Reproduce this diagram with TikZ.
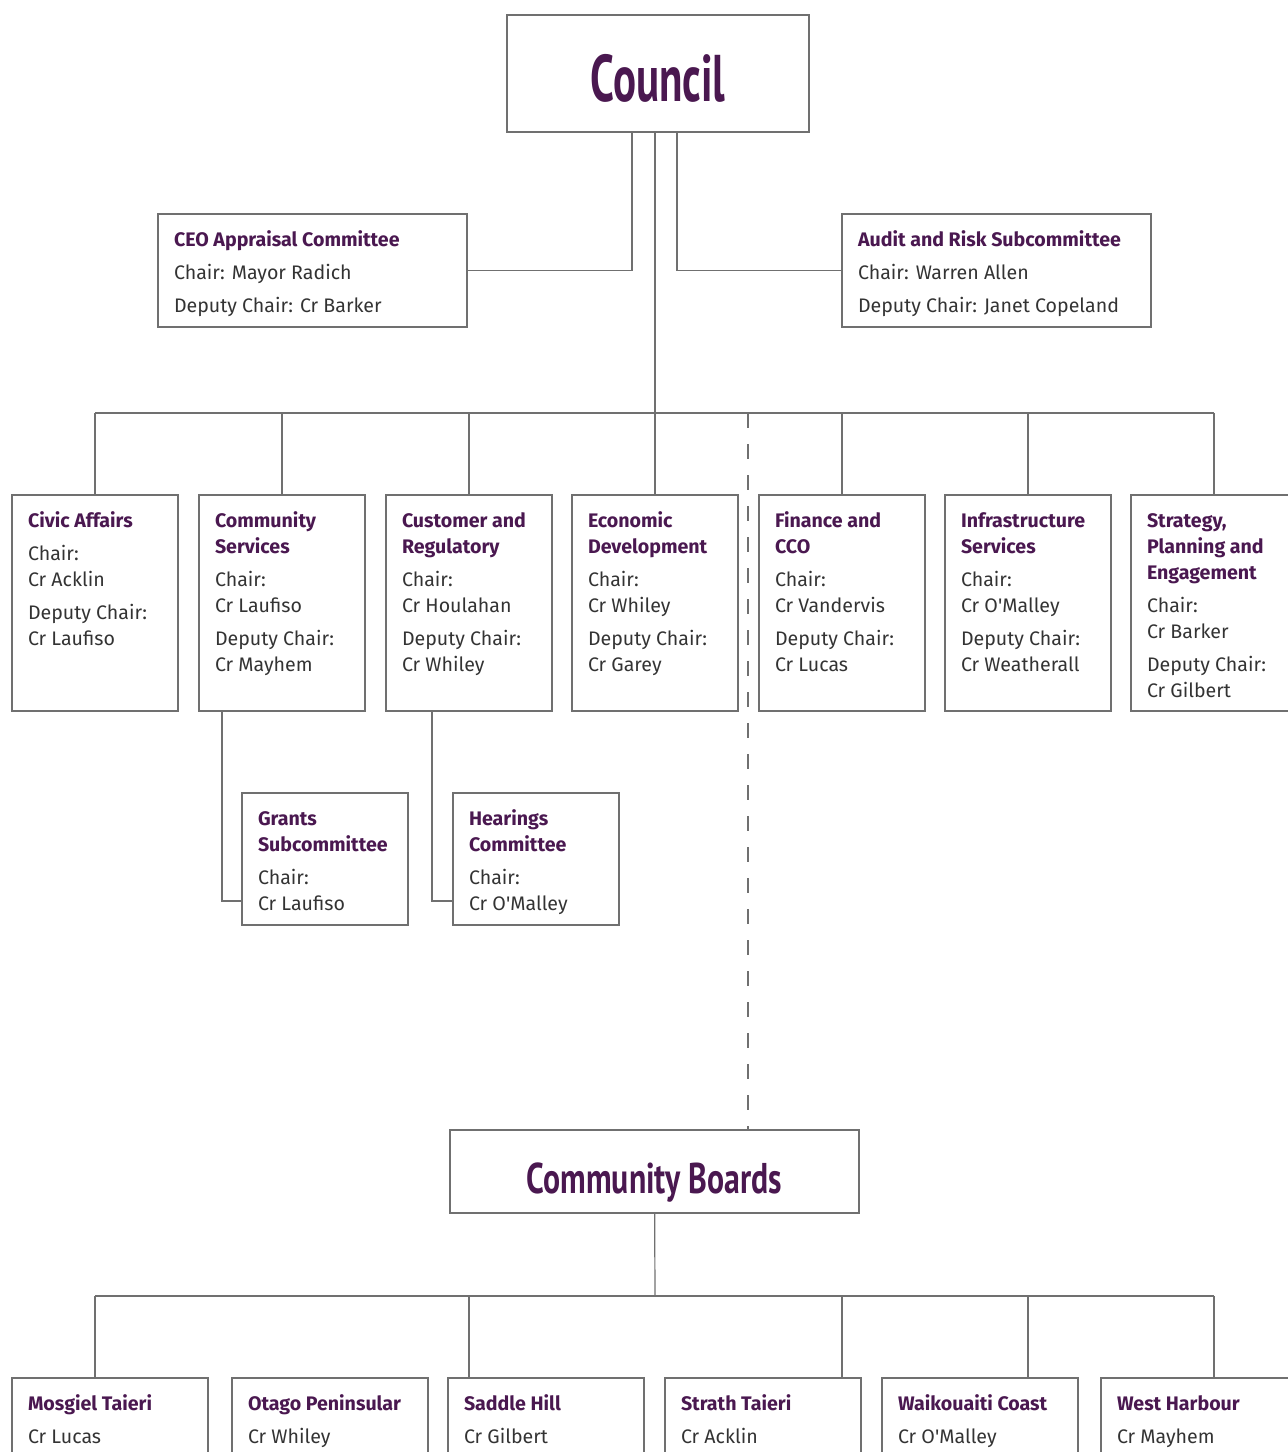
\documentclass[tikz,border=0pt]{standalone}
\usepackage{fontspec}
\setmainfont{Fira Sans}
\newfontfamily\councilfont{PT Sans}[FakeStretch=0.65]
\newfontfamily\boardfont{PT Sans}[FakeStretch=0.74]
\usetikzlibrary{positioning}
\definecolor{dccpurple}{HTML}{4A1850}
\definecolor{bodygray}{HTML}{333333}
\definecolor{linegray}{HTML}{707070}
\newcommand{\headln}[1]{\strut{\bfseries\color{dccpurple}#1}}
\newcommand{\omalley}{O\textquotesingle Malley}

\begin{document}
\begin{tikzpicture}[
		x=0.5pt, y=-0.5pt,
		line width=0.6pt,
		box/.style={draw=linegray, rectangle, inner sep=0pt},
		bigbox/.style={box, text=dccpurple},
		sidebox/.style={box, minimum width=154.5pt, minimum height=56.5pt},
		cttee/.style={box, minimum width=83pt, minimum height=108pt},
		subbox/.style={box, minimum width=83pt, minimum height=66pt},
		cbbox/.style={box, minimum width=98pt, minimum height=70pt},
		txt/.style={inner sep=0pt, align=left, text=bodygray, font=\fontsize{9.8}{13}\selectfont},
		link/.style={draw=linegray},
		dashlink/.style={draw=linegray, dash pattern=on 7.5pt off 8pt},
	]
	\useasboundingbox (0,0) rectangle (1288,1452);
	\clip (0,0) rectangle (1288,1452);

	% top level
	\node (council) [bigbox, minimum width=151pt, minimum height=58.5pt, font=\councilfont\bfseries\fontsize{33}{33}\selectfont] at (658,73.5) {\raisebox{-2pt}[\height][0pt]{Council}};

	\node (ceo) [sidebox] at (312.5,270.5) {};
	\node (ceo-t) [txt, below right=6.9pt and 8pt of ceo.north west] {\headln{CEO Appraisal Committee}\\[3.5pt] Chair: Mayor Radich\\[3.5pt] Deputy Chair: Cr Barker};

	\node (audit) [sidebox] at (996.5,270.5) {};
	\node (audit-t) [txt, below right=6.9pt and 8pt of audit.north west] {\headln{Audit and Risk Subcommittee}\\[3.5pt] Chair: Warren Allen\\[3.5pt] Deputy Chair: Janet Copeland};

	% committees
	\node (civic) [cttee] at (95,603) {};
	\node (civic-t) [txt, below right=6.9pt and 8pt of civic.north west] {\headln{Civic Affairs}\\[3.5pt] Chair:\\ Cr Acklin\\[3.5pt] Deputy Chair:\\ Cr Laufiso};

	\node (community) [cttee] at (282,603) {};
	\node (community-t) [txt, below right=6.9pt and 8pt of community.north west] {\headln{Community}\\ \headln{Services}\\[3.5pt] Chair:\\ Cr Laufiso\\[3.5pt] Deputy Chair:\\ Cr Mayhem};

	\node (customer) [cttee] at (469,603) {};
	\node (customer-t) [txt, below right=6.9pt and 8pt of customer.north west] {\headln{Customer and}\\ \headln{Regulatory}\\[3.5pt] Chair:\\ Cr Houlahan\\[3.5pt] Deputy Chair:\\ Cr Whiley};

	\node (economic) [cttee] at (655,603) {};
	\node (economic-t) [txt, below right=6.9pt and 8pt of economic.north west] {\headln{Economic}\\ \headln{Development}\\[3.5pt] Chair:\\ Cr Whiley\\[3.5pt] Deputy Chair:\\ Cr Garey};

	\node (finance) [cttee] at (842,603) {};
	\node (finance-t) [txt, below right=6.9pt and 8pt of finance.north west] {\headln{Finance and}\\ \headln{CCO}\\[3.5pt] Chair:\\ Cr Vandervis\\[3.5pt] Deputy Chair:\\ Cr Lucas};

	\node (infra) [cttee] at (1028,603) {};
	\node (infra-t) [txt, below right=6.9pt and 8pt of infra.north west] {\headln{Infrastructure}\\ \headln{Services}\\[3.5pt] Chair:\\ Cr \omalley\\[3.5pt] Deputy Chair:\\ Cr Weatherall};

	\node (strategy) [cttee] at (1214,603) {};
	\node (strategy-t) [txt, below right=6.9pt and 8pt of strategy.north west] {\headln{Strategy,}\\ \headln{Planning and}\\ \headln{Engagement}\\[3.5pt] Chair:\\ Cr Barker\\[3.5pt] Deputy Chair:\\ Cr Gilbert};

	% subcommittees
	\node (grants) [subbox] at (325,859) {};
	\node (grants-t) [txt, below right=6.9pt and 8pt of grants.north west] {\headln{Grants}\\ \headln{Subcommittee}\\[3.5pt] Chair:\\ Cr Laufiso};

	\node (hearings) [subbox] at (536,859) {};
	\node (hearings-t) [txt, below right=6.9pt and 8pt of hearings.north west] {\headln{Hearings}\\ \headln{Committee}\\[3.5pt] Chair:\\ Cr \omalley};

	% community boards
	\node (boards) [bigbox, minimum width=204.5pt, minimum height=41.5pt, font=\boardfont\bfseries\fontsize{21.5}{21.5}\selectfont] at (654.5,1171.5) {\raisebox{-3.5pt}[\height][0pt]{Community Boards}};

	\node (mosgiel) [cbbox] at (110,1448) {};
	\node (mosgiel-t) [txt, below right=6.9pt and 8pt of mosgiel.north west] {\headln{Mosgiel Taieri}\\[3.5pt] Cr Lucas};

	\node (otago) [cbbox] at (330,1448) {};
	\node (otago-t) [txt, below right=6.9pt and 8pt of otago.north west] {\headln{Otago Peninsular}\\[3.5pt] Cr Whiley};

	\node (saddle) [cbbox] at (546,1448) {};
	\node (saddle-t) [txt, below right=6.9pt and 8pt of saddle.north west] {\headln{Saddle Hill}\\[3.5pt] Cr Gilbert};

	\node (strath) [cbbox] at (763,1448) {};
	\node (strath-t) [txt, below right=6.9pt and 8pt of strath.north west] {\headln{Strath Taieri}\\[3.5pt] Cr Acklin};

	\node (waikouaiti) [cbbox] at (980,1448) {};
	\node (waikouaiti-t) [txt, below right=6.9pt and 8pt of waikouaiti.north west] {\headln{Waikouaiti Coast}\\[3.5pt] Cr \omalley};

	\node (westharbour) [cbbox] at (1199,1448) {};
	\node (westharbour-t) [txt, below right=6.9pt and 8pt of westharbour.north west] {\headln{West Harbour}\\[3.5pt] Cr Mayhem};

	% connectors
	\coordinate (bus) at (655,413);
	\coordinate (split) at (748,413);
	\coordinate (cbus) at (655,1296);

	\draw[link] ([xshift=-13pt]council.south) |- (ceo.east);
	\draw[link] ([xshift=9.5pt]council.south) |- (audit.west);
	\draw[link] (council.south -| bus) -- (bus);
	\draw[link] (bus -| civic) -- (bus -| strategy);
	\draw[link] (bus -| civic) -- (civic);
	\draw[link] (bus -| community) -- (community);
	\draw[link] (bus -| customer) -- (customer);
	\draw[link] (bus -| economic) -- (economic);
	\draw[link] (bus -| finance) -- (finance);
	\draw[link] (bus -| infra) -- (infra);
	\draw[link] (bus -| strategy) -- (strategy);

	\draw[link] ([xshift=-30pt]community.south) |- ([yshift=-21pt]grants.west);
	\draw[link] ([xshift=-18.5pt]customer.south) |- ([yshift=-21pt]hearings.west);

	\draw[dashlink] (split) -- (split |- boards.north);

	\draw[link] (boards) -- (cbus);
	\draw[link] (cbus -| civic) -- (cbus -| strategy);
	\draw[link] (cbus -| civic) -- (mosgiel.north -| civic);
	\draw[link] (cbus -| customer) -- (saddle.north -| customer);
	\draw[link] (cbus -| finance) -- (strath.north -| finance);
	\draw[link] (cbus -| infra) -- (waikouaiti.north -| infra);
	\draw[link] (cbus -| strategy) -- (westharbour.north -| strategy);
\end{tikzpicture}
\end{document}
